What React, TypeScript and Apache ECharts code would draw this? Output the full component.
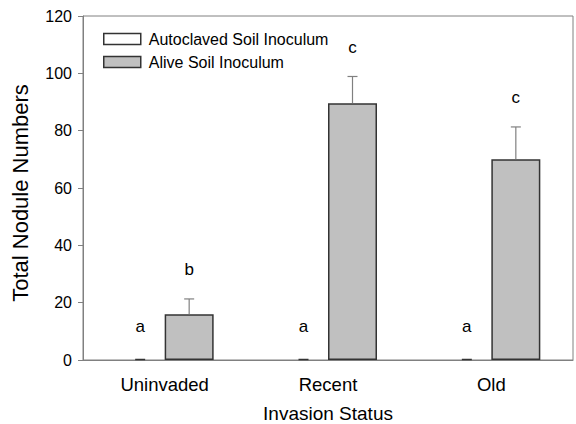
import React, { useEffect, useRef } from "react";
import * as echarts from "echarts";

const categories = ["Uninvaded", "Recent", "Old"];
const autoclavedValues = [0, 0, 0];
const autoclavedSE = [0, 0, 0];
const aliveValues = [16, 89.6, 70];
const aliveSE = [5.3, 9.3, 11.3];
const autoclavedLetters = ["a", "a", "a"];
const aliveLetters = ["b", "c", "c"];
const yTicks = { min: 0, max: 120, interval: 20 };

const FONT = "'Liberation Sans', Arial, sans-serif";
const BAR_W = 49;

export default function App() {
  const ref = useRef<HTMLDivElement>(null);
  useEffect(() => {
    if (!ref.current) return;
    const chart = echarts.init(ref.current, undefined, { renderer: "svg", width: 576, height: 424 });

    const errorSeries = (values: number[], se: number[], letters: string[], side: number, letterOffset: number, name: string) => ({
      type: "custom",
      name,
      silent: true,
      z: 5,
      data: values.map((v, i) => [i, v, se[i]]),
      renderItem: (params: any, api: any) => {
        const i = api.value(0);
        const v = api.value(1);
        const s = api.value(2);
        const base = api.coord([i, v]);
        const top = api.coord([i, v + s]);
        const x = base[0] + side * BAR_W / 2;
        const children: any[] = [];
        if (s > 0) {
          children.push({
            type: "line",
            shape: { x1: x, y1: base[1], x2: x, y2: top[1] },
            style: { stroke: "#808080", lineWidth: 1.2 },
          });
        }
        children.push({
          type: "line",
          shape: { x1: x - 5, y1: top[1] - (s > 0 ? 0 : 0.5), x2: x + 5, y2: top[1] - (s > 0 ? 0 : 0.5) },
          style: { stroke: s > 0 ? "#808080" : "#333", lineWidth: s > 0 ? 1.2 : 1.5 },
        });
        children.push({
          type: "text",
          style: {
            x,
            y: top[1] - letterOffset,
            text: letters[params.dataIndex],
            fill: "#000",
            font: `17px ${FONT}`,
            align: "center",
            verticalAlign: "middle",
          },
        });
        return { type: "group", children };
      },
    });

    chart.setOption({
      animation: false,
      textStyle: { fontFamily: FONT },
      grid: {
        left: 83,
        right: 3,
        top: 16,
        bottom: 64,
        outerBoundsMode: "none",
        containLabel: false,
        show: true,
        borderColor: "#808080",
        borderWidth: 1,
        backgroundColor: "transparent",
      },
      legend: {
        orient: "vertical",
        left: 103,
        top: 31,
        padding: 0,
        itemWidth: 37,
        itemHeight: 11,
        itemGap: 7,
        icon: "rect",
        selectedMode: false,
        textStyle: { color: "#000", fontSize: 16, lineHeight: 16, fontFamily: FONT, padding: [0, 0, 0, 3] },
        data: [
          {
            name: "Autoclaved Soil Inoculum",
            itemStyle: { color: "#ffffff", borderColor: "#333", borderWidth: 1.5 },
          },
          {
            name: "Alive Soil Inoculum",
            itemStyle: { color: "#c0c0c0", borderColor: "#333", borderWidth: 1.5 },
          },
        ],
      },
      xAxis: {
        type: "category",
        data: categories,
        name: "Invasion Status",
        nameLocation: "middle",
        nameGap: 44,
        nameTextStyle: { color: "#000", fontSize: 19, fontFamily: FONT },
        axisLine: { lineStyle: { color: "#808080", width: 1 } },
        axisTick: { alignWithLabel: true, length: 5, lineStyle: { color: "#808080" } },
        axisLabel: { color: "#000", fontSize: 18.5, fontFamily: FONT, margin: 15 },
      },
      yAxis: {
        type: "value",
        min: yTicks.min,
        max: yTicks.max,
        interval: yTicks.interval,
        name: "Total Nodule Numbers",
        nameLocation: "middle",
        nameGap: 52,
        nameTextStyle: { color: "#000", fontSize: 22, fontFamily: FONT, padding: [0, 10, 0, 0] },
        axisLine: { show: true, lineStyle: { color: "#808080", width: 1 } },
        axisTick: { show: true, length: 5, lineStyle: { color: "#808080" } },
        axisLabel: { color: "#000", fontSize: 16, fontFamily: FONT, margin: 11 },
        splitLine: { show: false },
      },
      series: [
        {
          type: "bar",
          name: "Autoclaved Soil Inoculum",
          data: autoclavedValues,
          barWidth: BAR_W,
          barGap: "0%",
          itemStyle: { color: "#ffffff", borderColor: "#333", borderWidth: 0 },
        },
        {
          type: "bar",
          name: "Alive Soil Inoculum",
          data: aliveValues,
          barWidth: BAR_W,
          barGap: "0%",
          itemStyle: { color: "#c0c0c0", borderColor: "#333", borderWidth: 1.5 },
        },
        errorSeries(autoclavedValues, autoclavedSE, autoclavedLetters, -1, 34, "errA"),
        errorSeries(aliveValues, aliveSE, aliveLetters, 1, 29, "errB"),
      ],
    });
    return () => chart.dispose();
  }, []);
  return (
    <div
      ref={ref}
      style={{ position: "fixed", left: 0, top: 0, width: 576, height: 424, background: "#fff" }}
    />
  );
}
